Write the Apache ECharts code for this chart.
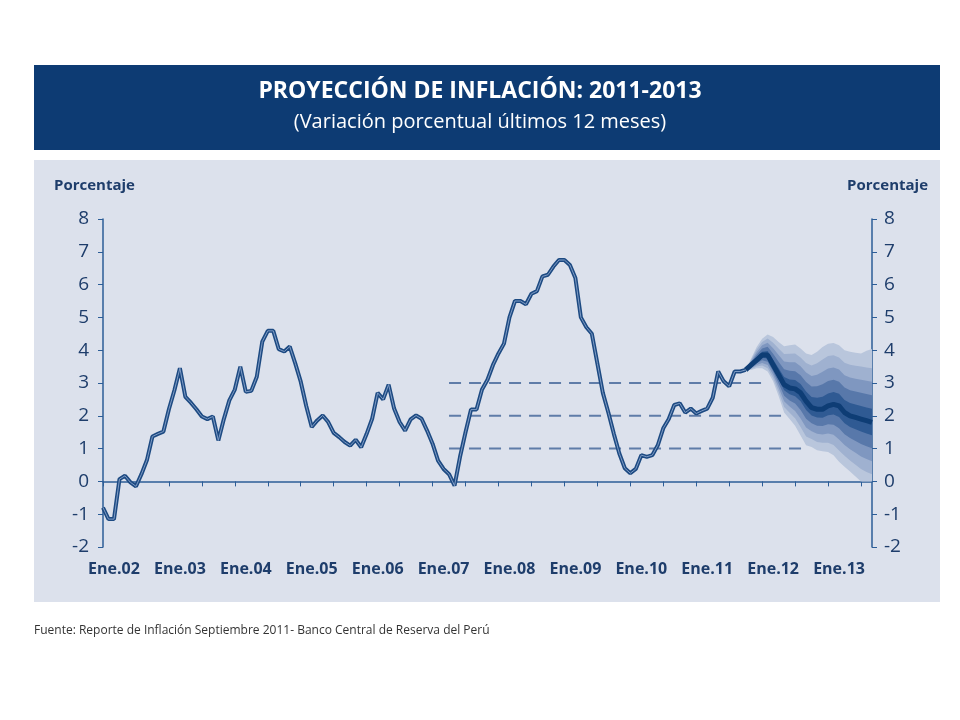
<!DOCTYPE html>
<html>
<head>
<meta charset="utf-8">
<script src="https://cdn.jsdelivr.net/npm/echarts@6/dist/echarts.min.js"></script>
<style>
  html, body { margin:0; padding:0; background:#fff; }
  #chart { width:960px; height:720px; }
</style>
</head>
<body>
<div id="chart"></div>
<script>
// observado: inflacion 12 meses, desde nov.01
var observado = [-0.8,-1.15,-1.15,0.07,0.17,-0.03,-0.15,0.22,0.65,1.37,1.45,1.52,2.2,2.78,3.45,2.58,
  2.4,2.2,1.98,1.9,1.98,1.25,1.9,2.47,2.8,3.5,2.73,2.76,3.19,4.26,4.59,4.59,4.03,3.96,4.11,3.6,
  3.04,2.3,1.66,1.86,2.01,1.81,1.48,1.35,1.2,1.09,1.27,1.04,1.45,1.91,2.7,2.5,2.95,2.22,1.81,
  1.55,1.89,2.01,1.91,1.55,1.15,0.63,0.38,0.22,
  -0.13,0.75,1.5,2.19,2.19,2.8,3.1,3.55,3.9,4.2,5.0,5.5,5.5,5.4,5.72,5.8,6.25,6.3,6.55,6.75,6.75,
  6.6,6.2,5.0,4.7,4.5,3.6,2.7,2.1,1.45,0.85,0.4,0.25,0.38,0.8,0.75,0.8,1.1,1.62,1.9,2.33,2.38,
  2.1,2.22,2.07,2.15,2.22,2.55,3.35,3.05,2.9,3.35,3.35,3.4];
// proyeccion: centro y bordes externos del abanico
var proyCentro = [3.4,3.55,3.7,3.85,3.85,3.55,3.25,2.95,2.85,2.82,2.7,2.45,2.25,2.2,2.2,2.3,2.35,2.3,2.1,2.0,1.95,1.9,1.85,1.8];
var proySup = [3.4,3.75,4.1,4.35,4.48,4.4,4.25,4.12,4.15,4.17,4.05,3.9,3.85,3.95,4.1,4.2,4.22,4.15,4.0,3.95,3.92,3.9,3.88,3.86];
var proyInf = [3.4,3.4,3.45,3.45,3.35,3.05,2.6,2.1,1.9,1.7,1.4,1.1,1.05,0.95,0.92,0.9,0.8,0.6,0.45,0.3,0.15,0.0,-0.1,-0.18];
var metas = [3, 2, 1];
var metaInicio = 63;
var metaFin = [121, 124, 128];
var mesesNombre = ['Ene','Feb','Mar','Abr','May','Jun','Jul','Ago','Set','Oct','Nov','Dic'];

var inicioProy = observado.length - 1;
var total = inicioProy + proyCentro.length;
var meses = [];
for (var i = 0; i < total; i++) {
  var m = (10 + i) % 12, y = 2001 + Math.floor((10 + i) / 12);
  meses.push(mesesNombre[m] + '.' + String(y).slice(2));
}

function padProy(arr) {
  var out = [];
  for (var i = 0; i < total; i++) out.push(i >= inicioProy ? arr[i - inicioProy] : null);
  return out;
}

var series = [];
// abanico: bandas apiladas
var niveles = [1, 0.8, 0.6, 0.4, 0.2];
var colores = ['#b9c6dc', '#9fb1d0', '#7f97c0', '#5878aa', '#2f5a93'];
function borde(frac, lado) {
  return proyCentro.map(function (c, k) {
    var ext = lado > 0 ? proySup[k] : proyInf[k];
    return c + (ext - c) * frac;
  });
}
niveles.forEach(function (f, n) {
  var lo = borde(f, -1), hi = borde(f, 1);
  series.push({ type:'line', stack:'b' + n, data: padProy(lo), symbol:'none', lineStyle:{opacity:0}, silent:true, z: 2 + n });
  series.push({ type:'line', stack:'b' + n, data: padProy(hi.map(function (v, k) { return v - lo[k]; })),
    symbol:'none', lineStyle:{opacity:0}, areaStyle:{color: colores[n], opacity:1}, silent:true, z: 2 + n });
});
series.push({ type:'line', data: padProy(proyCentro), symbol:'none', lineStyle:{color:'#0e3d75', width:5}, z: 9 });

metas.forEach(function (v, j) {
  var d = [];
  for (var i = 0; i < total; i++) d.push(i >= metaInicio && i <= metaFin[j] ? v : null);
  series.push({ type:'line', data:d, symbol:'none', lineStyle:{color:'#5f7ca8', width:2, type:[12,8]}, z:1 });
});

var obs = observado.slice();
series.push({ type:'line', data: obs, symbol:'none', lineStyle:{color:'#1d4a82', width:4}, z: 10 });
series.push({ type:'line', data: obs, symbol:'none', lineStyle:{color:'#7f9cc6', width:1}, z: 11 });

var chart = echarts.init(document.getElementById('chart'));
var ejeColor = '#2c5d97';
var txtColor = '#1e3d6b';
chart.setOption({
  animation: false,
  graphic: [
    { type:'rect', shape:{x:34, y:65, width:906, height:85}, style:{fill:'#0d3b73'}, z:-10 },
    { type:'rect', shape:{x:34, y:160, width:906, height:442}, style:{fill:'#dce1ec'}, z:-10 },
    { type:'text', left:'center', top:80, style:{text:'PROYECCIÓN DE INFLACIÓN: 2011-2013', fill:'#fff', font:'bold 23px "Open Sans"'} },
    { type:'text', left:'center', top:112, style:{text:'(Variación porcentual últimos 12 meses)', fill:'#fff', font:'20px "Open Sans"'} },
    { type:'text', left:54, top:178, style:{text:'Porcentaje', fill:txtColor, font:'bold 15px "Open Sans"'} },
    { type:'text', right:32, top:178, style:{text:'Porcentaje', fill:txtColor, font:'bold 15px "Open Sans"'} },
    { type:'text', left:34, top:625, style:{text:'Fuente: Reporte de Inflación Septiembre 2011- Banco Central de Reserva del Perú', fill:'#333', font:'12px "Open Sans"'} }
  ],
  grid: { left:103, right:88, top:219, bottom:173 },
  xAxis: [
    { type:'category', data: meses, boundaryGap:false,
      axisLine:{onZero:true, lineStyle:{color:ejeColor, width:1.5}},
      axisTick:{interval:5, length:5, lineStyle:{color:ejeColor}}, axisLabel:{show:false} },
    { type:'category', data: meses, boundaryGap:false, position:'bottom', offset:0,
      axisLine:{show:false}, axisTick:{show:false},
      axisLabel:{interval:function (i) { return i % 12 === 2; }, formatter:function (v) { return v; },
        color:txtColor, fontSize:16, fontWeight:'bold', fontFamily:'"Open Sans"', margin:14} }
  ],
  yAxis: [
    { type:'value', min:-2, max:8, interval:1, position:'left', splitLine:{show:false},
      axisLine:{show:true, onZero:false, lineStyle:{color:ejeColor, width:1.5}},
      axisTick:{show:true, length:5, lineStyle:{color:ejeColor}},
      axisLabel:{color:txtColor, fontSize:19, fontFamily:'"Open Sans"', margin:14} },
    { type:'value', min:-2, max:8, interval:1, position:'right', splitLine:{show:false},
      axisLine:{show:true, onZero:false, lineStyle:{color:ejeColor, width:1.5}},
      axisTick:{show:true, length:5, lineStyle:{color:ejeColor}},
      axisLabel:{color:txtColor, fontSize:19, fontFamily:'"Open Sans"', margin:12} }
  ],
  series: series
});
</script>
</body>
</html>
